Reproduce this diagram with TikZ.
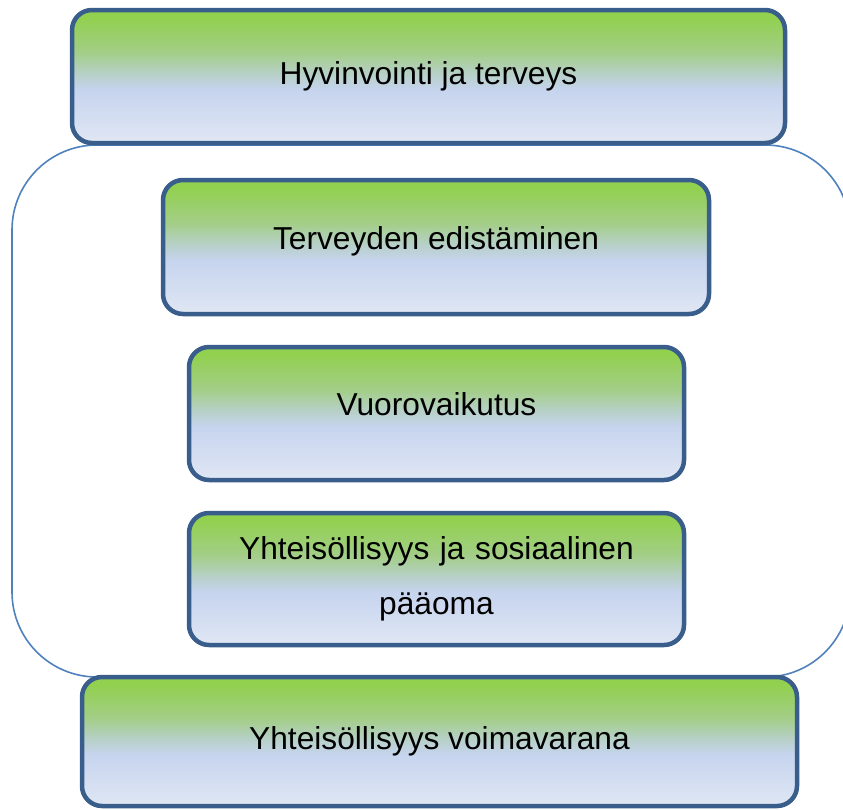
\documentclass[tikz,border=0pt]{standalone}
\usepackage{fontspec}
\setmainfont{Liberation Sans}
\definecolor{boxgreen}{RGB}{146,208,80}
\definecolor{boxlime}{RGB}{163,206,135}
\definecolor{boxteal}{RGB}{183,208,200}
\definecolor{boxblue}{RGB}{198,212,238}
\definecolor{boxpale}{RGB}{224,231,244}
\definecolor{boxline}{RGB}{58,94,140}
\definecolor{frameline}{RGB}{79,129,189}
\pgfdeclareverticalshading{boxshade}{100bp}{color(0bp)=(boxpale); color(25bp)=(boxpale); color(45bp)=(boxblue); color(51bp)=(boxteal); color(59bp)=(boxlime); color(72bp)=(boxgreen); color(100bp)=(boxgreen)}
\begin{document}
\begin{tikzpicture}[x=1pt, y=-1pt]
    % Define the styles for the boxes and the frame
    \tikzstyle{level}=[rectangle, rounded corners=20pt, draw=boxline, line width=4.5pt, shading=boxshade, text centered, font=\fontsize{31.7}{55}\selectfont, inner sep=0pt]
    \tikzstyle{lifted}=[text height=23pt, text depth=19pt]
    \tikzstyle{frame}=[rectangle, rounded corners=85pt, draw=frameline, line width=1.6pt, minimum width=838pt, minimum height=532pt, inner sep=0pt]

    \useasboundingbox (0,0) rectangle (843,809);

    % Draw the frame round the middle boxes
    \node[frame] (yhteiso) at (431, 411) {};

    % Draw the boxes
    \node[level, minimum width=713pt, minimum height=133pt] (hyvinvointi) at (428.5, 76.5) {Hyvinvointi ja terveys};
    \node[level, lifted, minimum width=546pt, minimum height=134pt] (edistaminen) at (436, 247) {Terveyden edistäminen};
    \node[level, lifted, minimum width=495pt, minimum height=133pt] (vuorovaikutus) at (436.5, 413.5) {Vuorovaikutus};
    \node[level, minimum width=495pt, minimum height=132pt, text width=480pt, align=center] (paaoma) at (436.5, 579) {Yhteisöllisyys ja sosiaalinen\\pääoma};
    \node[level, minimum width=715pt, minimum height=129pt] (voimavara) at (439.5, 741.5) {Yhteisöllisyys voimavarana};
\end{tikzpicture}
\end{document}
